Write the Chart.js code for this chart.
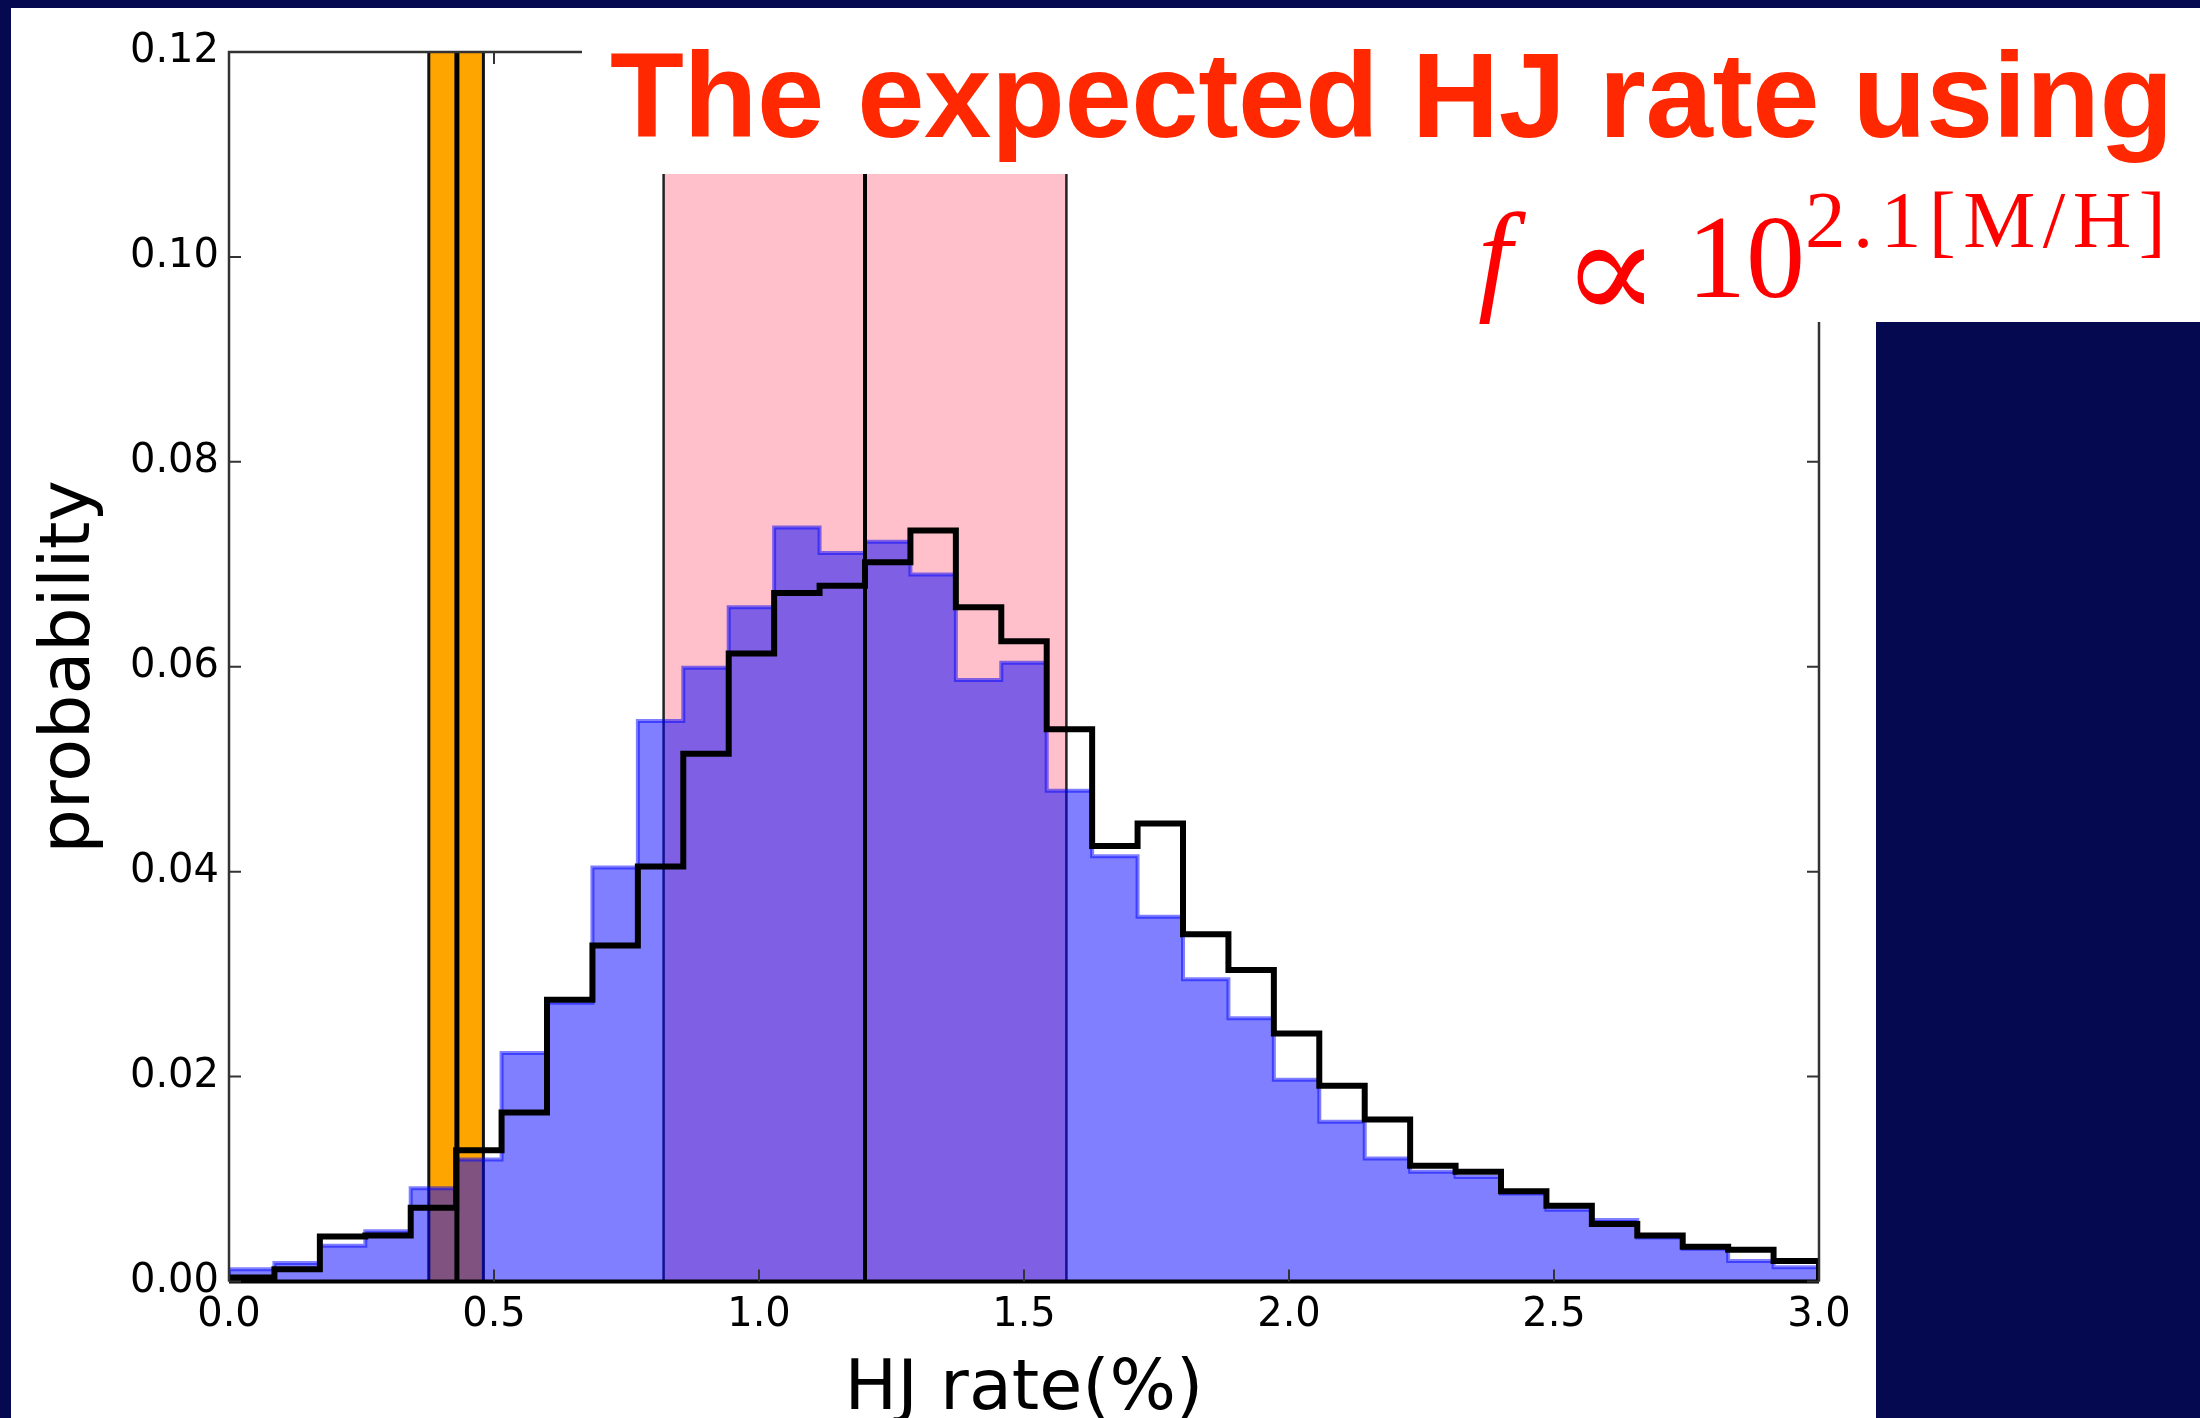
<!DOCTYPE html>
<html>
<head>
<meta charset="utf-8">
<script src="https://cdn.jsdelivr.net/npm/chart.js@4.4.0/dist/chart.umd.min.js"></script>
<style>
	body { margin: 0; width: 2200px; height: 1418px; background: #050a50; position: relative; overflow: hidden; }
	#hoja { position: absolute; left: 11px; top: 8px; width: 2189px; height: 1410px; background: #fff; }
	#grafica { position: absolute; left: 0; top: 0; }
	.caja { position: absolute; background: #fff; }
	#bloque { position: absolute; left: 1876px; top: 322px; width: 324px; height: 1096px; background: #050a50; }
	#titulo { position: absolute; left: 610px; top: 35px; font: bold 121px "Liberation Sans"; line-height: 1; color: #ff2800; letter-spacing: -0.4px; white-space: nowrap; }
	.formula { position: absolute; font-family: "Liberation Serif"; line-height: 1; color: #ff0000; white-space: nowrap; }
</style>
</head>
<body>
<div id="hoja"></div>
<canvas id="grafica" width="2200" height="1418"></canvas>
<div class="caja" style="left:582px; top:8px; width:1618px; height:166px;"></div>
<div class="caja" style="left:1300px; top:174px; width:900px; height:148px;"></div>
<div id="bloque"></div>
<div id="titulo">The expected HJ rate using</div>
<span class="formula" style="left:1478px; top:196px; font-size:122px; font-style:italic;">f</span>
<span class="formula" style="left:1562px; top:198px; font-size:144px; font-family:'DejaVu Serif';">∝</span>
<span class="formula" style="left:1687px; top:199px; font-size:118px;">10</span>
<span class="formula" style="left:1805px; top:180px; font-size:81px; letter-spacing:7.5px;">2.1[M/H]</span>

<script>
var inicio_bins = 0.0;
var fin_bins = 3.0;

// histograma relleno (azul) y contorno (negro), 35 bins entre 0 y 3
var prob_azul = [0.0012, 0.0018, 0.0035, 0.0049, 0.0091, 0.0119, 0.0223, 0.0272, 0.0404, 0.0547,
	0.0599, 0.0658, 0.0736, 0.0711, 0.0722, 0.0690, 0.0587, 0.0604, 0.0479, 0.0415,
	0.0356, 0.0295, 0.0257, 0.0197, 0.0156, 0.0120, 0.0107, 0.0102, 0.0086, 0.0070,
	0.0060, 0.0043, 0.0032, 0.0020, 0.0014];
var prob_negra = [0.0004, 0.0012, 0.0044, 0.0045, 0.0072, 0.0128, 0.0165, 0.0275, 0.0328, 0.0405,
	0.0515, 0.0613, 0.0672, 0.0679, 0.0702, 0.0733, 0.0658, 0.0625, 0.0539, 0.0425,
	0.0447, 0.0339, 0.0304, 0.0242, 0.0191, 0.0158, 0.0113, 0.0107, 0.0088, 0.0074,
	0.0056, 0.0045, 0.0034, 0.0031, 0.0020];

// [inferior, central, superior]
var banda_rosa = [0.82, 1.20, 1.58];
var banda_naranja = [0.377, 0.43, 0.48];

var ticks_x = [0.0, 0.5, 1.0, 1.5, 2.0, 2.5, 3.0];
var ticks_y = [0.00, 0.02, 0.04, 0.06, 0.08, 0.10, 0.12];

function puntos_escalon(valores){
	let ancho = (fin_bins - inicio_bins) / valores.length;
	let puntos = [{x: inicio_bins, y: 0}];
	valores.forEach(function(v, i){
		puntos.push({x: inicio_bins + i * ancho, y: v});
	});
	puntos.push({x: fin_bins, y: valores[valores.length - 1]});
	puntos.push({x: fin_bins, y: 0});
	return puntos;
}

function linea_vertical(c, x, arriba, abajo, grosor, color){
	c.beginPath();
	c.lineWidth = grosor;
	c.strokeStyle = color;
	c.moveTo(x, arriba);
	c.lineTo(x, abajo);
	c.stroke();
}

var bandas = {
	id: 'bandas',
	beforeDatasetsDraw: function(chart){
		let c = chart.ctx, a = chart.chartArea, ex = chart.scales.x;
		c.save();
		c.fillStyle = '#ffc0cb';
		c.fillRect(ex.getPixelForValue(banda_rosa[0]), a.top, ex.getPixelForValue(banda_rosa[2]) - ex.getPixelForValue(banda_rosa[0]), a.bottom - a.top);
		c.fillStyle = '#ffa500';
		c.fillRect(ex.getPixelForValue(banda_naranja[0]), a.top, ex.getPixelForValue(banda_naranja[2]) - ex.getPixelForValue(banda_naranja[0]), a.bottom - a.top);
		for (v of [banda_rosa[0], banda_rosa[2]]) {
			linea_vertical(c, ex.getPixelForValue(v), a.top, a.bottom, 2.5, '#222');
		}
		for (v of [banda_naranja[0], banda_naranja[2]]) {
			linea_vertical(c, ex.getPixelForValue(v), a.top, a.bottom, 3, '#111');
		}
		c.restore();
	},
	afterDatasetsDraw: function(chart){
		let c = chart.ctx, a = chart.chartArea, ex = chart.scales.x, ey = chart.scales.y;
		c.save();
		linea_vertical(c, ex.getPixelForValue(banda_rosa[1]), a.top, a.bottom, 4, '#000');
		linea_vertical(c, ex.getPixelForValue(banda_naranja[1]), a.top, a.bottom, 5, '#000');

		// ejes
		c.strokeStyle = '#333';
		c.lineWidth = 2.5;
		c.beginPath();
		c.moveTo(a.left, a.bottom); c.lineTo(a.left, a.top); c.lineTo(a.right, a.top); c.lineTo(a.right, a.bottom);
		c.stroke();
		c.strokeStyle = '#000';
		c.lineWidth = 4;
		c.beginPath();
		c.moveTo(a.left, a.bottom); c.lineTo(a.right, a.bottom);
		c.stroke();

		// marcas hacia dentro
		c.strokeStyle = '#333';
		c.lineWidth = 2;
		c.beginPath();
		for (t of ticks_x) {
			let px = ex.getPixelForValue(t);
			c.moveTo(px, a.bottom); c.lineTo(px, a.bottom - 12);
			c.moveTo(px, a.top); c.lineTo(px, a.top + 12);
		}
		for (t of ticks_y) {
			let py = ey.getPixelForValue(t);
			c.moveTo(a.left, py); c.lineTo(a.left + 12, py);
			c.moveTo(a.right, py); c.lineTo(a.right - 12, py);
		}
		c.stroke();
		c.restore();
	}
};

var fuente_ticks = {family: 'DejaVu Sans', size: 40};
var fuente_titulos = {family: 'DejaVu Sans', size: 70, lineHeight: 0.77};

var ctx = document.getElementById('grafica').getContext('2d');
var grafica = new Chart(ctx, {
	type: 'line',
	data: {
		datasets: [
			{
				data: puntos_escalon(prob_negra),
				stepped: 'before',
				borderColor: '#000',
				borderWidth: 6,
				fill: false,
				pointRadius: 0,
				order: 0,
			},
			{
				data: puntos_escalon(prob_azul),
				stepped: 'before',
				borderColor: 'rgba(0, 0, 255, 0.5)',
				backgroundColor: 'rgba(0, 0, 255, 0.5)',
				borderWidth: 4,
				fill: 'origin',
				pointRadius: 0,
				order: 1,
			},
		],
	},
	options: {
		responsive: false,
		animation: false,
		layout: {
			padding: {left: 0, top: 52, right: 381, bottom: 0}
		},
		plugins: {
			legend: {display: false},
			tooltip: {enabled: false}
		},
		scales: {
			x: {
				type: 'linear',
				min: inicio_bins,
				max: fin_bins,
				grid: {display: false, drawTicks: false},
				border: {display: false},
				afterBuildTicks: function(escala){
					escala.ticks = ticks_x.map(function(v){ return {value: v}; });
				},
				afterFit: function(escala){ escala.height = 136.5; },
				ticks: {
					color: '#000',
					font: fuente_ticks,
					padding: 10,
					maxRotation: 0,
					autoSkip: false,
					callback: function(v){ return v.toFixed(1); }
				},
				title: {
					display: true,
					text: 'HJ rate(%)',
					color: '#000',
					font: fuente_titulos,
					padding: 0
				}
			},
			y: {
				min: 0,
				max: 0.12,
				grid: {display: false, drawTicks: false},
				border: {display: false},
				afterBuildTicks: function(escala){
					escala.ticks = ticks_y.map(function(v){ return {value: v}; });
				},
				afterFit: function(escala){ escala.width = 229; },
				ticks: {
					color: '#000',
					font: fuente_ticks,
					padding: 10,
					callback: function(v){ return v.toFixed(2); }
				},
				title: {
					display: true,
					text: 'probability',
					color: '#000',
					font: fuente_titulos,
					padding: {top: 44, bottom: 0}
				}
			}
		}
	},
	plugins: [bandas]
});
</script>
</body>
</html>
